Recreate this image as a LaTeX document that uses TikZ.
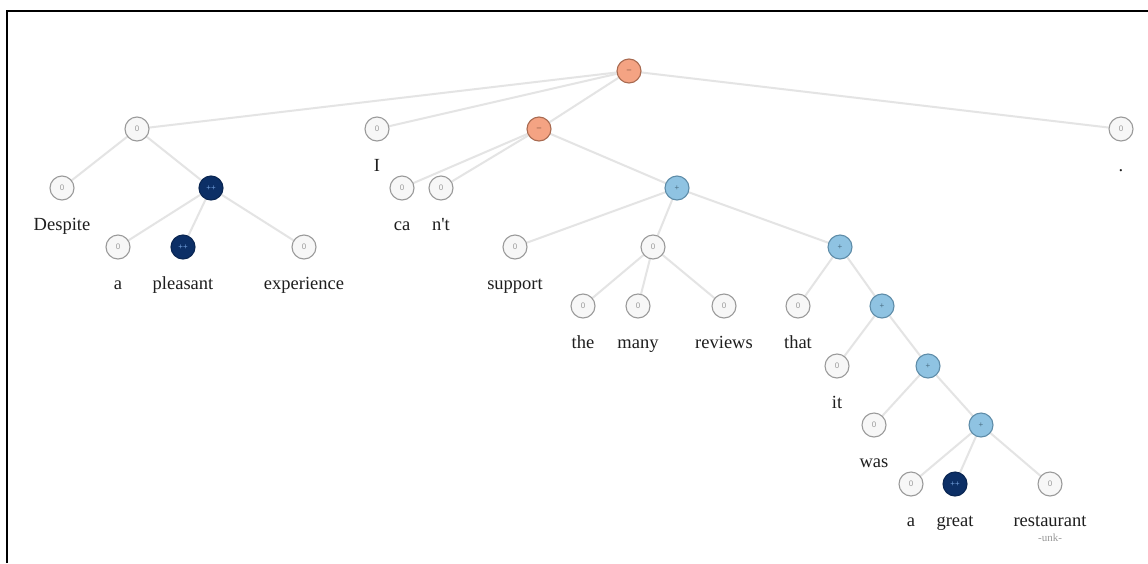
\documentclass[tikz,border=0pt]{standalone}
\usepackage{fontspec}
\setmainfont{Liberation Serif}[Ligatures=TeXOff]
\newfontfamily\circfont{Liberation Sans}
\definecolor{edgegray}{HTML}{E4E4E4}
\definecolor{zerofill}{HTML}{F7F7F7}
\definecolor{zerodraw}{HTML}{9A9A9A}
\definecolor{orfill}{HTML}{F4A383}
\definecolor{ordraw}{HTML}{A86A50}
\definecolor{lbfill}{HTML}{8FC3E2}
\definecolor{lbdraw}{HTML}{5E8CA8}
\definecolor{dbfill}{HTML}{0C2F66}
\definecolor{dbtext}{HTML}{6E9AD6}
\definecolor{labtext}{HTML}{1E1E1E}
\begin{document}
\begin{tikzpicture}[x=1pt,y=-1pt,
  sentnode/.style={circle,minimum size=24pt,inner sep=0pt,line width=1.1pt,
    font=\circfont\fontsize{8}{9}\selectfont},
  zeronode/.style={sentnode,fill=zerofill,draw=zerodraw,text=zerodraw},
  negnode/.style={sentnode,fill=orfill,draw=ordraw,text=ordraw!70!black},
  posnode/.style={sentnode,fill=lbfill,draw=lbdraw,text=lbdraw!80!black},
  vposnode/.style={sentnode,fill=dbfill,draw=dbfill!80!black,text=dbtext},
  wordlab/.style={anchor=base,inner sep=0pt,text=labtext,font=\fontsize{18.5}{22}\selectfont},
  unklab/.style={anchor=base,inner sep=0pt,text=gray!80,font=\fontsize{11}{13}\selectfont},
  conn/.style={draw=edgegray,line width=2pt}]
\useasboundingbox (0,0) rectangle (1148,563);
\fill[white] (0,0) rectangle (1148,563);
\draw[line width=2.4pt,black] (7,563) -- (7,11) -- (1148,11);

% positions
\coordinate (root) at (629,71);
\coordinate (A) at (137,129);
\coordinate (nI) at (377,129);
\coordinate (B) at (539,129);
\coordinate (ndot) at (1121,129);
\coordinate (nDespite) at (62,188);
\coordinate (C) at (211,188);
\coordinate (nca) at (402,188);
\coordinate (nnt) at (441,188);
\coordinate (D) at (677,188);
\coordinate (na1) at (118,247);
\coordinate (npleasant) at (183,247);
\coordinate (nexperience) at (304,247);
\coordinate (nsupport) at (515,247);
\coordinate (E) at (653,247);
\coordinate (F) at (840,247);
\coordinate (nthe) at (583,306);
\coordinate (nmany) at (638,306);
\coordinate (nreviews) at (724,306);
\coordinate (nthat) at (798,306);
\coordinate (G) at (882,306);
\coordinate (nit) at (837,366);
\coordinate (H) at (928,366);
\coordinate (nwas) at (874,425);
\coordinate (J) at (981,425);
\coordinate (na2) at (911,484);
\coordinate (ngreat) at (955,484);
\coordinate (nrestaurant) at (1050,484);

% edges first (so circles cover them)
\foreach \p/\c in {root/A,root/nI,root/B,root/ndot,A/nDespite,A/C,C/na1,C/npleasant,C/nexperience,
  B/nca,B/nnt,B/D,D/nsupport,D/E,D/F,E/nthe,E/nmany,E/nreviews,F/nthat,F/G,G/nit,G/H,H/nwas,H/J,
  J/na2,J/ngreat,J/nrestaurant}
  \draw[conn] (\p) -- (\c);

% nodes
\node[negnode]  (sroot) at (root) {–};
\node[zeronode] (sA) at (A) {0};
\node[zeronode] (sI) at (nI) {0};
\node[negnode]  (sB) at (B) {–};
\node[zeronode] (sdot) at (ndot) {0};
\node[zeronode] (sDespite) at (nDespite) {0};
\node[vposnode] (sC) at (C) {++};
\node[zeronode] (sca) at (nca) {0};
\node[zeronode] (snt) at (nnt) {0};
\node[posnode]  (sD) at (D) {+};
\node[zeronode] (sa1) at (na1) {0};
\node[vposnode] (spleasant) at (npleasant) {++};
\node[zeronode] (sexperience) at (nexperience) {0};
\node[zeronode] (ssupport) at (nsupport) {0};
\node[zeronode] (sE) at (E) {0};
\node[posnode]  (sF) at (F) {+};
\node[zeronode] (sthe) at (nthe) {0};
\node[zeronode] (smany) at (nmany) {0};
\node[zeronode] (sreviews) at (nreviews) {0};
\node[zeronode] (sthat) at (nthat) {0};
\node[posnode]  (sG) at (G) {+};
\node[zeronode] (sit) at (nit) {0};
\node[posnode]  (sH) at (H) {+};
\node[zeronode] (swas) at (nwas) {0};
\node[posnode]  (sJ) at (J) {+};
\node[zeronode] (sa2) at (na2) {0};
\node[vposnode] (sgreat) at (ngreat) {++};
\node[zeronode] (srestaurant) at (nrestaurant) {0};

% labels
\node[wordlab] (lDespite) at (62,230) {Despite};
\node[wordlab] (lI) at (377,171) {I};
\node[wordlab] (lca) at (402,230) {ca};
\node[wordlab] (lnt) at (441,230) {n't};
\node[wordlab] (ldot) at (1121,171) {.};
\node[wordlab] (la1) at (118,289) {a};
\node[wordlab] (lpleasant) at (183,289) {pleasant};
\node[wordlab] (lexperience) at (304,289) {experience};
\node[wordlab] (lsupport) at (515,289) {support};
\node[wordlab] (lthe) at (583,348) {the};
\node[wordlab] (lmany) at (638,348) {many};
\node[wordlab] (lreviews) at (724,348) {reviews};
\node[wordlab] (lthat) at (798,348) {that};
\node[wordlab] (lit) at (837,408) {it};
\node[wordlab] (lwas) at (874,467) {was};
\node[wordlab] (la2) at (911,526) {a};
\node[wordlab] (lgreat) at (955,526) {great};
\node[wordlab] (lrestaurant) at (1050,526) {restaurant};
\node[unklab] (lunk) at (1050,541) {-unk-};
\end{tikzpicture}
\end{document}
